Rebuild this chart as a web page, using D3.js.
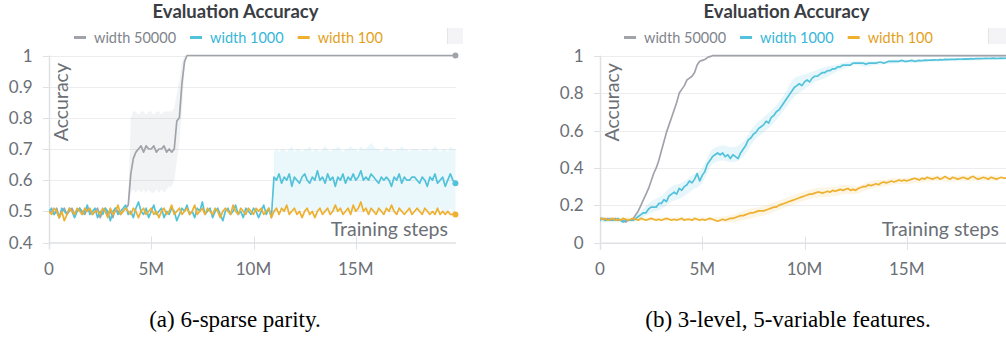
<!DOCTYPE html>
<html>
<head>
<meta charset="utf-8">
<script src="https://cdn.jsdelivr.net/npm/d3@7"></script>
<style>
  html, body { margin: 0; padding: 0; background: #fff; }
  svg { display: block; }
</style>
</head>
<body>
<svg id="fig" width="1006" height="343"></svg>
<script>
// ---------------------------------------------------------------
// Evaluation accuracy logged every 0.125M training steps
// ---------------------------------------------------------------
const evalStepM = 0.125;               // millions of steps between evaluations
const seriesNames = ["width 50000", "width 1000", "width 100"];
const seriesColors = ["#a0a4aa", "#52c2da", "#eeb02f"];
const legendTextColors = ["#80848b", "#36b6d8", "#e39f1c"];

// (a) 6-sparse parity
const parityWide = [
  0.50,0.50,0.49,0.51,0.48,0.50,0.51,0.49,0.50,0.51,
  0.49,0.50,0.51,0.50,0.49,0.51,0.50,0.49,0.50,0.51,
  0.48,0.50,0.51,0.49,0.50,0.48,0.51,0.50,0.49,0.50,
  0.51,
  0.52,0.62,0.67,0.69,0.70,0.71,0.69,0.71,0.70,0.70,
  0.71,0.69,0.70,0.70,0.71,0.69,0.70,0.69,0.70,0.79,
  0.80,0.91,0.98,
  1,1,1,1,1,1,1,1,1,1, 1,1,1,1,1,1,1,1,1,1,
  1,1,1,1,1,1,1,1,1,1, 1,1,1,1,1,1,1,1,1,1,
  1,1,1,1,1,1,1,1,1,1, 1,1,1,1,1,1,1,1,1,1,
  1,1,1,1,1,1,1,1,1,1, 1,1,1,1,1,1,1,1,1,1,
  1,1,1,1,1,1,1,1,1,1, 1,1,1,1,1,1,1,1,1,1,
  1,1,1,1,1,1
];
const parityMid = [
  0.50,0.51,0.49,0.50,0.48,0.51,0.50,0.49,0.51,0.50,
  0.48,0.50,0.51,0.49,0.50,0.52,0.49,0.50,0.51,0.48,
  0.50,0.49,0.51,0.50,0.47,0.50,0.51,0.49,0.50,0.51,
  0.52,0.49,0.50,0.48,0.51,0.53,0.50,0.49,0.51,0.48,
  0.50,0.52,0.49,0.50,0.51,0.48,0.50,0.49,0.51,0.50,
  0.47,0.49,0.51,0.50,0.52,0.49,0.50,0.48,0.51,0.50,
  0.53,0.49,0.50,0.51,0.48,0.50,0.51,0.49,0.47,0.50,
  0.51,0.49,0.50,0.52,0.49,0.50,0.48,0.51,0.50,0.49,
  0.51,0.50,0.48,0.50,0.52,0.49,0.51,0.48,
  0.61,0.60,0.62,0.59,0.61,0.60,0.62,0.58,0.61,0.60,
  0.59,0.61,0.62,0.60,0.59,0.61,0.60,0.63,0.60,0.61,
  0.59,0.62,0.60,0.61,0.58,0.61,0.60,0.62,0.59,0.61,
  0.60,0.62,0.60,0.61,0.63,0.60,0.61,0.60,0.62,0.61,
  0.60,0.59,0.61,0.60,0.61,0.60,0.58,0.61,0.60,0.62,
  0.59,0.61,0.60,0.60,0.61,0.61,0.60,0.59,0.61,0.60,
  0.58,0.61,0.60,0.62,0.59,0.60,0.61,0.58,0.60,0.62,
  0.60,0.59
];
const parityNarrow = [
  0.50,0.49,0.51,0.50,0.48,0.50,0.47,0.49,0.51,0.50,
  0.49,0.51,0.50,0.49,0.51,0.50,0.51,0.49,0.50,0.50,
  0.49,0.51,0.50,0.48,0.51,0.49,0.50,0.52,0.49,0.50,
  0.51,0.50,0.49,0.51,0.50,0.48,0.50,0.51,0.49,0.50,
  0.51,0.49,0.50,0.48,0.50,0.51,0.49,0.50,0.52,0.49,
  0.50,0.51,0.49,0.50,0.51,0.49,0.50,0.52,0.49,0.50,
  0.51,0.49,0.51,0.50,0.49,0.51,0.50,0.48,0.50,0.51,
  0.50,0.49,0.52,0.50,0.49,0.51,0.50,0.49,0.51,0.50,
  0.49,0.51,0.50,0.51,0.49,0.50,0.51,0.48,0.50,0.51,
  0.49,0.51,0.50,0.52,0.49,0.50,0.51,0.49,0.50,0.48,
  0.50,0.51,0.49,0.50,0.48,0.50,0.51,0.49,0.50,0.51,
  0.49,0.50,0.52,0.50,0.51,0.49,0.50,0.51,0.49,0.52,
  0.50,0.51,0.53,0.50,0.51,0.49,0.51,0.50,0.49,0.51,
  0.50,0.49,0.51,0.50,0.52,0.50,0.49,0.51,0.50,0.49,
  0.50,0.51,0.49,0.50,0.51,0.50,0.49,0.51,0.50,0.49,
  0.50,0.49,0.51,0.49,0.50,0.49,0.50,0.49,0.49,0.49
];
// min / max envelopes across runs (start in millions of steps)
const parityWideBandStart = 3.875;
const parityWideLow = [
  0.50,0.56,0.57,0.56,0.57,0.56,0.57,0.56,0.57,0.56,0.56,0.57,
  0.56,0.57,0.56,0.57,0.58,0.58,0.60,0.66,0.72,0.82,0.95,1.0
];
const parityWideHigh = [
  0.53,0.80,0.82,0.82,0.81,0.82,0.82,0.81,0.82,0.82,0.81,0.82,
  0.82,0.81,0.82,0.82,0.82,0.82,0.83,0.88,0.92,0.98,1.0,1.0
];
const parityMidBandStart = 11.0;
const parityMidLow = [
  0.49,0.50,0.51,0.50,0.50,0.51,0.50,0.50,0.51,0.50,
  0.50,0.51,0.50,0.50,0.51,0.50,0.50,0.50,0.51,0.50,
  0.50,0.51,0.50,0.50,0.50,0.51,0.50,0.50,0.51,0.50,
  0.50,0.50,0.51,0.50,0.50,0.51,0.50,0.50,0.51,0.50,
  0.50,0.51,0.50,0.50,0.50,0.51,0.50,0.50,0.51,0.50,
  0.50,0.50,0.51,0.50,0.50,0.51,0.50,0.50,0.50,0.51,
  0.50,0.50,0.51,0.50,0.50,0.51,0.50,0.50,0.50,0.51,
  0.50,0.50
];
const parityMidHigh = [
  0.69,0.70,0.69,0.70,0.70,0.69,0.70,0.71,0.69,0.70,
  0.70,0.69,0.70,0.70,0.71,0.69,0.70,0.70,0.69,0.70,
  0.71,0.70,0.69,0.70,0.70,0.71,0.70,0.69,0.70,0.70,
  0.71,0.70,0.70,0.69,0.71,0.70,0.70,0.71,0.72,0.71,
  0.70,0.70,0.69,0.70,0.71,0.70,0.70,0.69,0.70,0.70,
  0.71,0.70,0.70,0.69,0.70,0.70,0.70,0.69,0.70,0.70,
  0.70,0.69,0.70,0.71,0.70,0.69,0.70,0.70,0.69,0.71,
  0.70,0.70
];

// (b) 3-level, 5-variable features
const featWide = [
  0.13,0.13,0.12,0.13,0.12,0.12,0.13,0.12,0.12,0.12,0.11,0.12,0.12,
  0.13,0.15,0.17,0.20,0.23,0.26,0.29,0.33,0.37,0.40,
  0.44,0.49,0.54,0.59,0.63,0.67,0.71,0.75,0.80,0.82,
  0.84,0.87,0.88,0.89,0.91,0.95,0.97,0.975,0.98,0.99,0.995,
  1,1,1,1,1,1,1,1,1,1, 1,1,1,1,1,1,1,1,1,1,
  1,1,1,1,1,1,1,1,1,1, 1,1,1,1,1,1,1,1,1,1,
  1,1,1,1,1,1,1,1,1,1, 1,1,1,1,1,1,1,1,1,1,
  1,1,1,1,1,1,1,1,1,1, 1,1,1,1,1,1,1,1,1,1,
  1,1,1,1,1,1,1,1,1,1, 1,1,1,1,1,1,1,1,1,1,
  1,1,1,1,1,1,1,1,1,1, 1,1,1,1,1,1
];
const featMid = [
  0.12,0.13,0.12,0.12,0.13,0.12,0.12,0.13,0.12,0.11,0.12,0.12,0.12,
  0.12,0.13,0.14,0.15,0.16,0.16,0.18,0.19,0.19,0.19,
  0.21,0.21,0.23,0.22,0.25,0.26,0.27,0.26,0.29,0.28,
  0.30,0.31,0.33,0.32,0.34,0.37,0.33,0.36,0.38,0.42,
  0.44,0.46,0.47,0.48,0.47,0.48,0.46,0.47,0.45,0.47,
  0.46,0.45,0.48,0.50,0.52,0.55,0.56,0.58,0.59,0.61,
  0.62,0.63,0.65,0.64,0.67,0.68,0.70,0.71,0.73,0.75,
  0.77,0.79,0.81,0.83,0.84,0.85,0.84,0.86,0.87,0.86,
  0.88,0.89,0.89,0.90,0.91,0.91,0.92,0.92,0.93,0.93,
  0.94,0.94,0.95,0.95,
  0.95,0.95,0.96,0.96,0.96,0.96,0.96,0.955,0.96,0.96,0.96,0.96,
  0.965,0.965,0.96,0.965,0.97,0.97,0.97,0.97,0.97,0.975,0.97,0.97,
  0.972,0.975,0.97,0.972,0.975,0.973,0.976,0.975,0.977,0.976,
  0.978,0.977,0.979,0.978,0.98,0.979,0.98,0.981,0.98,0.982,
  0.981,0.982,0.983,0.982,0.984,0.983,0.984,0.985,0.984,0.985,
  0.986,0.985,0.986,0.987,0.985,0.986,0.987,0.986,0.987
];
const featNarrow = [
  0.13,0.125,0.13,0.12,0.125,0.13,0.12,0.125,0.12,0.13,
  0.125,0.12,0.125,0.13,0.125,0.12,0.13,0.125,0.12,0.125,
  0.13,0.125,0.12,0.125,0.12,0.125,0.13,0.125,0.12,0.125,
  0.12,0.125,0.13,0.12,0.125,0.125,0.12,0.13,0.125,0.12,
  0.125,0.12,0.125,0.13,0.125,0.12,0.115,0.12,0.125,0.12,
  0.125,0.13,
  0.13,0.135,0.14,0.145,0.145,0.15,0.155,0.16,0.16,0.165,
  0.17,0.17,0.17,0.175,0.18,0.185,0.19,0.19,0.20,0.205,
  0.21,0.215,0.22,0.225,0.23,0.235,0.24,0.245,0.25,0.255,
  0.26,0.26,0.265,0.27,0.27,0.265,0.27,0.275,0.27,0.28,
  0.275,0.28,0.285,0.28,0.285,0.29,0.28,0.285,0.28,0.29,
  0.295,0.30,0.30,0.31,0.305,0.31,0.315,0.31,0.32,0.325,
  0.32,0.325,0.33,0.325,0.33,0.335,0.33,0.335,0.33,
  0.335,0.34,0.345,0.34,0.335,0.345,0.34,0.35,0.345,0.34,
  0.345,0.35,0.34,0.345,0.355,0.345,0.34,0.35,0.345,0.34,
  0.345,0.35,0.345,0.34,0.35,0.355,0.345,0.34,0.345,0.35,
  0.345,0.34,0.35,0.345,0.34,0.345,0.35,0.345,0.345
];
// envelopes sampled every 0.5M steps
const featBandStepM = 0.5;
const featMidLow = [
  0.11,0.11,0.11,0.11,0.13,0.16,0.18,0.22,0.24,0.28,
  0.32,0.42,0.44,0.43,0.46,0.54,0.59,0.64,0.71,0.78,
  0.82,0.86,0.88,0.91,0.935,0.95,0.94,0.95,0.955,0.96,
  0.962,0.962,0.968,0.968,0.971,0.973,0.973,0.975,0.978,0.98
];
const featMidHigh = [
  0.13,0.13,0.13,0.13,0.17,0.22,0.25,0.30,0.32,0.36,
  0.40,0.50,0.52,0.51,0.54,0.62,0.67,0.72,0.79,0.88,
  0.90,0.92,0.94,0.95,0.965,0.97,0.97,0.97,0.975,0.98,
  0.978,0.978,0.982,0.982,0.985,0.987,0.987,0.989,0.99,0.99
];
const featNarrowLow = [
  0.115,0.115,0.115,0.115,0.115,0.115,0.115,0.115,0.115,0.115,
  0.115,0.115,0.11,0.11,0.12,0.135,0.145,0.165,0.185,0.205,
  0.225,0.24,0.245,0.25,0.26,0.26,0.28,0.295,0.302,0.314,
  0.314,0.32,0.325,0.33,0.325,0.33,0.33,0.33,0.33,0.33
];
const featNarrowHigh = [
  0.135,0.135,0.135,0.135,0.135,0.135,0.135,0.135,0.135,0.135,
  0.135,0.135,0.14,0.15,0.17,0.185,0.195,0.215,0.235,0.255,
  0.275,0.29,0.295,0.30,0.31,0.30,0.32,0.335,0.338,0.346,
  0.346,0.35,0.355,0.36,0.355,0.36,0.36,0.36,0.36,0.36
];

const xTickValues = [0, 5, 10, 15];
const xTickLabels = ["0", "5M", "10M", "15M"];
const parityYTicks = [0.4, 0.5, 0.6, 0.7, 0.8, 0.9, 1];
const parityYLabels = ["0.4", "0.5", "0.6", "0.7", "0.8", "0.9", "1"];
const featYTicks = [0, 0.2, 0.4, 0.6, 0.8, 1];
const featYLabels = ["0", "0.2", "0.4", "0.6", "0.8", "1"];

// ---------------------------------------------------------------
const svg = d3.select("#fig");
const uiFont = "Lato, 'Source Sans Pro', 'Noto Sans', sans-serif";
const pxPerM = 20.45;

const panels = [
  {
    left: 49, top: 55.5, bottom: 242.5, lastM: 19.9,
    yDomain: [0.4, 1], yTicks: parityYTicks, yLabels: parityYLabels,
    series: [parityWide, parityMid, parityNarrow],
    bands: [
      { color: "rgba(150,156,166,0.12)", start: parityWideBandStart, step: evalStepM, low: parityWideLow, high: parityWideHigh, curve: d3.curveLinear },
      { color: "rgba(82,194,218,0.12)", start: parityMidBandStart, step: evalStepM, low: parityMidLow, high: parityMidHigh, curve: d3.curveLinear }
    ],
    endDots: true, gridRight: null,
    titleX: 235.5, legendX: 74, boxX: 447, boxW: 16,
    caption: "(a) 6-sparse parity.", captionX: 235
  },
  {
    left: 600, top: 55.7, bottom: 242.7, lastM: 19.9,
    yDomain: [0, 1], yTicks: featYTicks, yLabels: featYLabels,
    series: [featWide, featMid, featNarrow],
    bands: [
      { color: "rgba(82,194,218,0.14)", start: 0, step: featBandStepM, low: featMidLow, high: featMidHigh, curve: d3.curveMonotoneX },
      { color: "rgba(238,176,47,0.13)", start: 0, step: featBandStepM, low: featNarrowLow, high: featNarrowHigh, curve: d3.curveMonotoneX }
    ],
    endDots: false, gridRight: 1006,
    titleX: 786.5, legendX: 624, boxX: 988, boxW: 18,
    caption: "(b) 3-level, 5-variable features.", captionX: 788
  }
];

panels.forEach((p, pi) => {
  const g = svg.append("g");
  const x = d3.scaleLinear().domain([0, 20]).range([p.left, p.left + 20 * pxPerM]);
  const y = d3.scaleLinear().domain(p.yDomain).range([p.bottom, p.top]);
  const right = x(p.lastM);
  const gridRight = p.gridRight || right;

  const clipId = "clip" + pi;
  svg.append("defs").append("clipPath").attr("id", clipId)
    .append("rect").attr("x", p.left).attr("y", p.top - 4)
    .attr("width", gridRight - p.left + 4).attr("height", p.bottom - p.top + 8);

  // horizontal grid and y ticks
  p.yTicks.forEach((t, i) => {
    const yy = Math.round(y(t)) + 0.5;
    if (i > 0) {
      g.append("line").attr("x1", p.left).attr("x2", gridRight)
        .attr("y1", yy).attr("y2", yy).attr("stroke", "#ededef").attr("stroke-width", 1);
    }
    g.append("line").attr("x1", p.left - 6).attr("x2", p.left)
      .attr("y1", yy).attr("y2", yy).attr("stroke", "#e0e1e4").attr("stroke-width", 1);
    g.append("text").attr("x", p.left - 16.5).attr("y", y(t) + 6)
      .attr("text-anchor", "end").attr("font-family", uiFont).attr("font-size", 17)
      .attr("fill", "#6b6f76").text(p.yLabels[i]);
  });

  // axis lines
  g.append("line").attr("x1", p.left + 0.5).attr("x2", p.left + 0.5)
    .attr("y1", p.top).attr("y2", p.bottom + 7).attr("stroke", "#dfe0e3").attr("stroke-width", 1.5);
  g.append("line").attr("x1", p.left).attr("x2", gridRight)
    .attr("y1", p.bottom + 0.5).attr("y2", p.bottom + 0.5).attr("stroke", "#dfe0e3").attr("stroke-width", 1.5);

  // x ticks
  xTickValues.forEach((t, i) => {
    const xx = Math.round(x(t)) + 0.5;
    if (i > 0) {
      g.append("line").attr("x1", xx).attr("x2", xx)
        .attr("y1", p.bottom - 6).attr("y2", p.bottom + 7).attr("stroke", "#e0e1e4").attr("stroke-width", 1);
    }
    g.append("text").attr("x", x(t)).attr("y", 275)
      .attr("text-anchor", "middle").attr("font-family", uiFont).attr("font-size", 17)
      .attr("fill", "#6b6f76").text(xTickLabels[i]);
  });

  // axis titles
  g.append("text")
    .attr("transform", `translate(${p.left + 18.5},${p.top + 7.5}) rotate(-90)`)
    .attr("text-anchor", "end").attr("font-family", uiFont).attr("font-size", 19.5)
    .attr("fill", "#6b6f76").text("Accuracy");
  g.append("text").attr("x", right - 8).attr("y", 236)
    .attr("text-anchor", "end").attr("font-family", uiFont).attr("font-size", 19.5)
    .attr("fill", "#6b6f76").text("Training steps");

  const plot = g.append("g").attr("clip-path", `url(#${clipId})`);

  // envelopes
  p.bands.forEach(b => {
    const pts = b.low.map((lo, i) => ({ m: b.start + i * b.step, lo, hi: b.high[i] }));
    plot.append("path").datum(pts)
      .attr("fill", b.color)
      .attr("d", d3.area().curve(b.curve).x(d => x(d.m)).y0(d => y(d.lo)).y1(d => y(d.hi)));
  });

  // series lines
  const line = d3.line().x((d, i) => x(i * evalStepM)).y(d => y(d));
  p.series.forEach((vals, si) => {
    plot.append("path").datum(vals)
      .attr("fill", "none").attr("stroke", seriesColors[si])
      .attr("stroke-width", 1.7).attr("stroke-linejoin", "round")
      .attr("d", line);
  });
  if (p.endDots) {
    p.series.forEach((vals, si) => {
      const last = vals.length - 1;
      g.append("circle").attr("cx", x(last * evalStepM)).attr("cy", y(vals[last]))
        .attr("r", 3).attr("fill", seriesColors[si]);
    });
  }

  // title
  g.append("text").attr("x", p.titleX).attr("y", 18.3)
    .attr("text-anchor", "middle").attr("font-family", uiFont).attr("font-weight", 700)
    .attr("font-size", 18.5).attr("fill", "#3a3d43").text("Evaluation Accuracy");

  // legend
  let lx = p.legendX;
  seriesNames.forEach((name, si) => {
    g.append("line").attr("x1", lx).attr("x2", lx + 12).attr("y1", 37.5).attr("y2", 37.5)
      .attr("stroke", seriesColors[si]).attr("stroke-width", 3);
    const t = g.append("text").attr("x", lx + 20).attr("y", 42.5)
      .attr("font-family", uiFont).attr("font-size", 14.5)
      .attr("fill", legendTextColors[si]).text(name);
    lx += 20 + t.node().getComputedTextLength() + 14;
  });
  g.append("rect").attr("x", p.boxX).attr("y", 28).attr("width", p.boxW).attr("height", 16)
    .attr("fill", "#f4f4f6");
  g.append("line").attr("x1", p.boxX + 0.5).attr("x2", p.boxX + 0.5).attr("y1", 28).attr("y2", 44)
    .attr("stroke", "#e4e5e8");

  // caption
  svg.append("text").attr("x", p.captionX).attr("y", 327)
    .attr("text-anchor", "middle").attr("font-family", "'Liberation Serif', 'Times New Roman', serif")
    .attr("font-size", 23).attr("fill", "#000").text(p.caption);
});
</script>
</body>
</html>
